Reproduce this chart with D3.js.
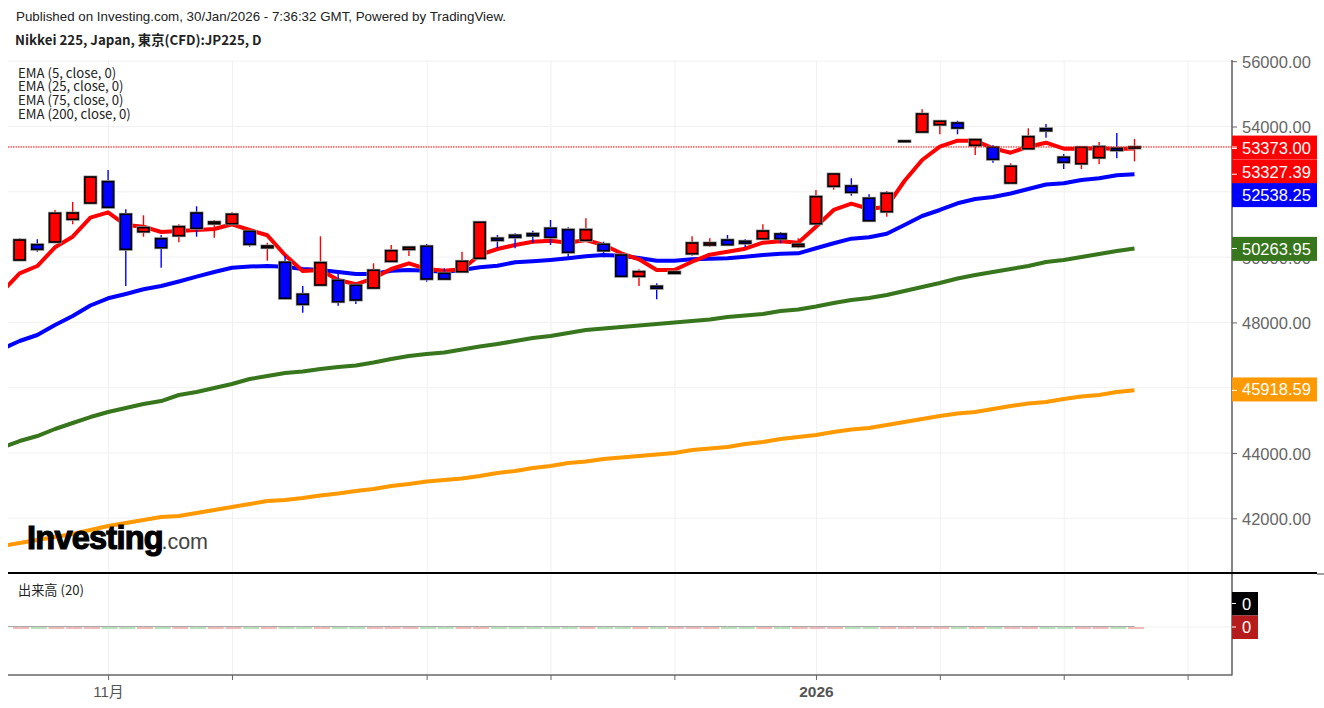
<!DOCTYPE html>
<html>
<head>
<meta charset="utf-8">
<style>
  html, body { margin: 0; padding: 0; background: #fff; }
  svg { display: block; }
  text { font-family: "Liberation Sans", sans-serif; }
  .note { font-family: "Noto Sans CJK JP", "Noto Sans", sans-serif; fill: #222; font-size: 13.2px; }
</style>
<script src="https://cdn.jsdelivr.net/npm/d3@7"></script>
</head>
<body>
<svg id="chart"></svg>
<script>
// candles
const opens = [49911,50380,50463,51158,51657,52310,51311,50778,50564,50656,51351,51023,51023,50790,50288,49841,48861,49145,49289,49136,49054,49871,50239,50331,49504,49553,49963,50576,50668,50717,50882,50839,50515,50392,50064,49412,49105,49504,50104,50371,50524,50484,50564,50708,50331,51023,52169,52178,51801,51391,53540,53832,54055,54108,53424,53363,52270,53320,53933,53057,52861,53045,53333,53340];
const highs = [50576,50545,51443,51688,52484,52668,51464,51280,50677,51005,51556,51136,51372,50809,50441,50043,49115,50637,49482,49198,49810,50371,50300,50401,49657,50165,51097,50677,50729,50809,51136,50913,51188,50472,50126,49626,49198,49553,50637,50576,50677,50545,51005,50769,50576,52055,52567,52414,51924,52025,53560,54527,54160,54178,53617,53434,52873,53945,54077,53158,53382,53526,53801,53617];
const lows = [49911,50165,50423,51005,51648,51525,49115,50625,49675,50453,50625,50594,51023,50319,49890,48717,48297,49145,48511,48563,49054,49871,50034,49247,49299,49553,49963,50270,50270,50441,50371,50012,50515,49994,49412,49115,48707,49498,50043,50319,50361,50300,50545,50423,50270,51023,52064,51881,51097,51237,53535,53832,53761,53761,53127,52892,52270,53320,53657,52699,52699,52842,53026,52934];
const closes = [50524,50239,51342,51351,52453,51525,50239,50901,50288,50931,50882,51075,51311,50392,50340,48738,48554,49829,48634,48686,49596,50196,50300,49329,49329,49871,51066,50515,50607,50656,50607,50147,50839,50196,49412,49553,49044,49544,50432,50432,50380,50423,50799,50564,50392,51850,52545,51985,51115,51954,53556,54383,54160,53954,53596,52996,52781,53688,53872,52904,53363,53382,53271,53373];

// moving averages, first value sits one day left of the first candle
const ema5 = [48931,49504,49727,50300,50625,51207,51372,50983,50931,50769,50799,50830,50861,51005,50830,50668,50064,49574,49605,49299,49167,49351,49636,49810,49636,49583,49626,50064,50248,50371,50472,50502,50441,50524,50371,50116,49933,49605,49605,49859,50074,50165,50257,50441,50484,50441,50931,51443,51636,51473,51544,52331,52974,53382,53565,53565,53333,53198,53382,53504,53320,53320,53333,53311,53327.39];
const ema25 = [47185,47430,47614,47920,48196,48518,48738,48870,49014,49115,49253,49400,49544,49675,49712,49727,49706,49636,49605,49544,49482,49482,49583,49605,49583,49553,49605,49688,49737,49841,49871,49911,49963,50025,50064,50043,49972,49890,49890,49933,49951,49963,50012,50064,50104,50116,50270,50423,50564,50607,50717,50983,51259,51443,51648,51780,51841,51948,52086,52224,52261,52362,52414,52506,52538.25];
const ema75 = [44168,44367,44520,44735,44919,45102,45255,45378,45500,45592,45776,45868,45991,46113,46266,46358,46450,46496,46573,46634,46680,46772,46879,46971,47032,47078,47170,47262,47338,47430,47522,47583,47675,47767,47813,47859,47905,47951,47997,48043,48089,48165,48211,48257,48349,48395,48487,48594,48686,48747,48839,48962,49084,49207,49345,49452,49544,49636,49727,49850,49911,50003,50095,50187,50263.95];
const ema200 = [41151,41243,41335,41427,41519,41641,41764,41856,41947,42039,42070,42162,42254,42346,42437,42529,42560,42621,42698,42759,42836,42897,42989,43050,43127,43173,43219,43295,43387,43448,43540,43601,43693,43739,43816,43862,43908,43954,44000,44091,44137,44183,44275,44337,44428,44490,44551,44643,44719,44765,44857,44949,45041,45133,45209,45255,45347,45439,45516,45562,45654,45730,45776,45868,45918.59];

// the volume pane has no data in this feed
const volumes = opens.map(() => 0);

const priceTicks = [42000, 44000, 46000, 48000, 50000, 52000, 54000, 56000];
const dayTicks = [5, 12, 23, 30, 37, 45, 52, 59, 66];
const dayLabels = { 5: "11月", 45: "2026" };

const legendLabels = ["EMA (5, close, 0)", "EMA (25, close, 0)", "EMA (75, close, 0)", "EMA (200, close, 0)"];
const lastValues = [
  { text: "53373.00", value: 53373, tag: "#ff0000" },
  { text: "53327.39", value: 53327.39, tag: "#ff0000" },
  { text: "52538.25", value: 52538.25, tag: "#0000ff" },
  { text: "50263.95", value: 50263.95, tag: "#38761d" },
  { text: "45918.59", value: 45918.59, tag: "#ff9900" },
];

const width = 1324;
const height = 708;
const left = 8;
const right = 1232;
const upColor = "#ff0000";
const downColor = "#0000ff";

const svg = d3.select("#chart").attr("width", width).attr("height", height);

const xScale = d3.scaleLinear().domain([0, 63]).range([19.6, 1134.5]);
const yScale = d3.scaleLinear().domain([42000, 56000]).range([518.3, 61.2]);
const volScale = d3.scaleLinear().domain([-1, 1]).range([675, 579]);

svg.append("clipPath").attr("id", "plot")
  .append("rect").attr("x", left).attr("y", 60).attr("width", right - left).attr("height", 513);

const drawGrid = () => {
  const grid = svg.append("g").attr("stroke", "#f1f1f1").attr("stroke-width", 1);
  grid.selectAll(".gx").data(dayTicks).enter().append("line")
    .attr("x1", (d) => xScale(d) + 0.5).attr("x2", (d) => xScale(d) + 0.5)
    .attr("y1", 60).attr("y2", 675);
  grid.selectAll(".gy").data(priceTicks).enter().append("line")
    .attr("x1", left).attr("x2", right)
    .attr("y1", (d) => yScale(d)).attr("y2", (d) => yScale(d));
  grid.append("line")
    .attr("x1", left).attr("x2", right)
    .attr("y1", volScale(0)).attr("y2", volScale(0));
};

const drawLines = () => {
  const line = d3.line()
    .x((d, i) => xScale(i - 1))
    .y((d) => yScale(d));
  const g = svg.append("g").attr("clip-path", "url(#plot)").attr("fill", "none")
    .attr("stroke-width", 4).attr("stroke-linejoin", "round");
  g.append("path").attr("d", line(ema200)).attr("stroke", "#ff9900");
  g.append("path").attr("d", line(ema75)).attr("stroke", "#38761d");
  g.append("path").attr("d", line(ema25)).attr("stroke", "#0000ff");
  g.append("path").attr("d", line(ema5)).attr("stroke", "#ff0000");
};

const drawCandles = () => {
  const bodyWidth = 11;
  const color = (i) => (closes[i] >= opens[i] ? upColor : downColor);
  const g = svg.append("g");
  const candle = g.selectAll("g").data(opens).enter().append("g");
  candle.append("line")
    .attr("x1", (d, i) => xScale(i)).attr("x2", (d, i) => xScale(i))
    .attr("y1", (d, i) => yScale(highs[i])).attr("y2", (d, i) => yScale(lows[i]))
    .attr("stroke", (d, i) => color(i)).attr("stroke-width", 1.4);
  // soft grey edge round the body, as in the exported image
  candle.append("rect")
    .attr("x", (d, i) => xScale(i) - bodyWidth / 2)
    .attr("y", (d, i) => yScale(Math.max(opens[i], closes[i])))
    .attr("width", bodyWidth)
    .attr("height", (d, i) => Math.abs(yScale(opens[i]) - yScale(closes[i])))
    .attr("fill", "none").attr("stroke", "#999").attr("stroke-width", 3);
  candle.append("rect")
    .attr("x", (d, i) => xScale(i) - bodyWidth / 2)
    .attr("y", (d, i) => yScale(Math.max(opens[i], closes[i])))
    .attr("width", bodyWidth)
    .attr("height", (d, i) => Math.abs(yScale(opens[i]) - yScale(closes[i])))
    .attr("fill", (d, i) => color(i)).attr("stroke", "#000").attr("stroke-width", 1.6);
};

const drawVolume = () => {
  const g = svg.append("g");
  g.selectAll("rect").data(volumes).enter().append("rect")
    .attr("x", (d, i) => xScale(i) - 6.5)
    .attr("y", (d) => volScale(d))
    .attr("width", 16)
    .attr("height", 2)
    .attr("fill", (d, i) => (closes[i] >= opens[i] ? "#efb9b9" : "#b9e0bd"));
  g.append("path")
    .attr("d", d3.line().x((d, i) => xScale(i)).y((d) => volScale(d) - 0.5)(volumes))
    .attr("fill", "none").attr("stroke", "#a8a8a8").attr("stroke-width", 1);
  g.insert("line", ":first-child")
    .attr("x1", left).attr("x2", xScale(0))
    .attr("y1", volScale(0) - 0.5).attr("y2", volScale(0) - 0.5)
    .attr("stroke", "#a8a8a8");
};

const drawAxes = () => {
  const yAxis = d3.axisRight(yScale).tickValues(priceTicks).tickFormat(d3.format(".2f")).tickSize(5).tickPadding(5);
  const yG = svg.append("g").attr("transform", "translate(" + right + ",0)").call(yAxis);
  yG.select(".domain").remove();
  yG.selectAll("line").attr("stroke", "#666").attr("stroke-width", 1);
  yG.selectAll("text").attr("fill", "#666").attr("dy", "0.37em").style("font-size", "16.5px");

  const xAxis = d3.axisBottom(xScale).tickValues(dayTicks).tickFormat((d) => dayLabels[d] || "").tickSize(5).tickPadding(6);
  const xG = svg.append("g").attr("transform", "translate(0,675)").call(xAxis);
  xG.select(".domain").remove();
  xG.selectAll("line").attr("stroke", "#666").attr("stroke-width", 1);
  xG.selectAll("text").attr("fill", "#555")
    .style("font-family", '"Liberation Sans", "Noto Sans CJK JP", sans-serif')
    .style("font-size", (d) => (d === 45 ? "15.5px" : "15px"))
    .style("font-weight", (d) => (d === 45 ? "bold" : "normal"));

  svg.append("line").attr("x1", right).attr("x2", right).attr("y1", 60).attr("y2", 675.5)
    .attr("stroke", "#666").attr("stroke-width", 1.6);
  svg.append("line").attr("x1", left).attr("x2", right).attr("y1", 675).attr("y2", 675)
    .attr("stroke", "#666").attr("stroke-width", 1.6);
  svg.append("line").attr("x1", left).attr("x2", 1317).attr("y1", 573).attr("y2", 573)
    .attr("stroke", "#000").attr("stroke-width", 2);
  svg.append("line").attr("x1", 1317).attr("x2", 1324).attr("y1", 574).attr("y2", 574)
    .attr("stroke", "#444").attr("stroke-width", 1);
};

const drawLastValues = () => {
  const lastY = yScale(lastValues[0].value);
  svg.append("line").attr("x1", left).attr("x2", right).attr("y1", lastY).attr("y2", lastY)
    .attr("stroke", "#ff0000").attr("stroke-width", 1).attr("stroke-dasharray", "1.5 1");

  // tags move apart when their values sit close together
  const offsets = [1.2, 23.8, 21.5, 1, -0.3];
  lastValues.forEach((d, i) => {
    const cy = yScale(d.value) + offsets[i] - 0.6;
    svg.append("rect").attr("x", right).attr("y", cy - 12).attr("width", 85).attr("height", 24).attr("fill", d.tag);
    svg.append("line").attr("x1", right).attr("x2", right + 5)
      .attr("y1", yScale(d.value)).attr("y2", yScale(d.value)).attr("stroke", "#fff");
    svg.append("text").attr("x", right + 10).attr("y", cy + 6).attr("fill", "#fff")
      .style("font-size", "16.5px").text(d.text);
  });

  // volume tags
  [{ y: 592, fill: "#000" }, { y: 615.5, fill: "#b71c1c" }].forEach((d) => {
    svg.append("rect").attr("x", right).attr("y", d.y).attr("width", 26).attr("height", 23.5).attr("fill", d.fill);
    svg.append("line").attr("x1", right).attr("x2", right + 4).attr("y1", d.y + 11.5).attr("y2", d.y + 11.5).attr("stroke", "#fff");
    svg.append("text").attr("x", right + 10).attr("y", d.y + 17.5).attr("fill", "#fff")
      .style("font-size", "16.5px").text("0");
  });
};

const drawText = () => {
  svg.append("text").attr("x", 16).attr("y", 21).attr("fill", "#222").style("font-size", "13.35px")
    .text("Published on Investing.com, 30/Jan/2026 - 7:36:32 GMT, Powered by TradingView.");
  svg.append("text").attr("class", "note").attr("x", 15).attr("y", 45)
    .style("font-size", "13.3px").style("font-weight", "bold").attr("fill", "#111")
    .text("Nikkei 225, Japan, 東京(CFD):JP225, D");
  svg.selectAll(".legend").data(legendLabels).enter().append("text")
    .attr("class", "note").attr("x", 18)
    .attr("y", (d, i) => 77.5 + i * 13.7)
    .text((d) => d);
  svg.append("text").attr("class", "note").attr("x", 18).attr("y", 595).text("出来高 (20)");

  const logo = svg.append("text").attr("x", 27).attr("y", 549);
  logo.append("tspan").attr("fill", "#000").attr("stroke", "#000").attr("stroke-width", 1.2)
    .style("font-size", "32.5px").style("font-weight", "bold").attr("letter-spacing", "-0.75").text("Investing");
  logo.append("tspan").attr("fill", "#444").attr("dx", "-1.5").style("font-size", "21.5px").text(".com");
};

drawGrid();
drawLines();
drawCandles();
drawVolume();
drawAxes();
drawLastValues();
drawText();
</script>
</body>
</html>
